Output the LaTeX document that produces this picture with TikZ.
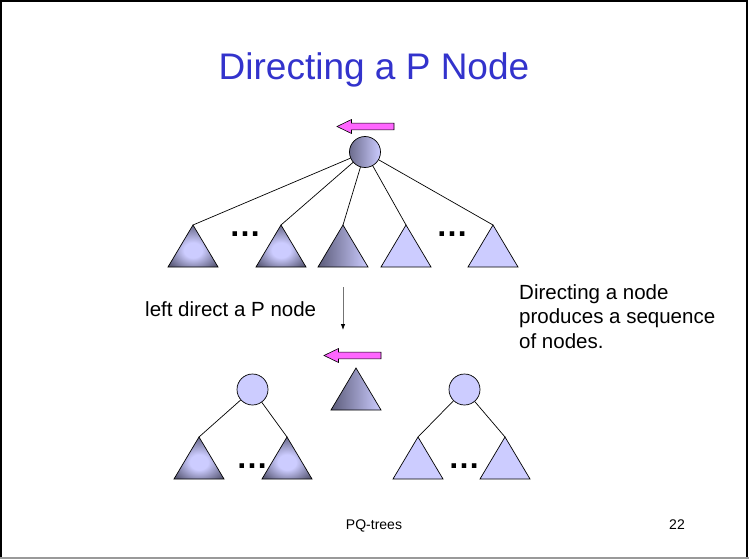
\documentclass[tikz,border=0pt]{standalone}
\usepackage{fontspec}
\setmainfont{Liberation Sans}
\usetikzlibrary{arrows.meta}

\definecolor{lav}{RGB}{204,204,255}
\definecolor{lavdark}{RGB}{92,92,122}
\definecolor{titleblue}{RGB}{51,51,204}
\definecolor{pinkarrow}{RGB}{255,102,255}

% soft glow: light centre fading to a dark rim
\pgfdeclareradialshading{subtreeglow}{\pgfpoint{0bp}{-6bp}}{%
  color(0bp)=(lav); color(9bp)=(lav); color(30bp)=(lavdark); color(50bp)=(lavdark)}

% subtree triangle hanging from apex coordinate #1, drawn with style #2
\newcommand\subtree[2]{\path[#2] (#1) -- ++(-25,42) -- ++(50,0) -- cycle;}
% left-pointing block arrow with its tip at coordinate #1
\newcommand\leftblock[1]{\path[blockarrow] (#1) -- ++(14.5,-7) -- ++(0,3.6) -- ++(42.5,0) -- ++(0,6.8) -- ++(-42.5,0) -- ++(0,3.6) -- cycle;}

\begin{document}
\begin{tikzpicture}[x=1pt,y=-1pt,
  edge/.style={draw=black, line width=0.7pt},
  outline/.style={draw=black, line width=0.7pt},
  pshade/.style={circle, outline, minimum size=31pt, inner sep=0pt, left color=lavdark!85!lav, right color=lav},
  pflat/.style={circle, outline, minimum size=31pt, inner sep=0pt, fill=lav},
  radtri/.style={outline, shading=subtreeglow},
  lintri/.style={outline, left color=lavdark, right color=lav},
  flattri/.style={outline, fill=lav},
  blockarrow/.style={draw=black, line width=0.6pt, fill=pinkarrow},
  dots/.style={inner sep=0pt, font=\fontsize{32}{32}\selectfont\bfseries},
  body/.style={inner sep=0pt, anchor=base west, font=\fontsize{20.5}{24.5}\selectfont},
  foot/.style={inner sep=0pt, anchor=base, font=\fontsize{14}{16}\selectfont}
]
\useasboundingbox (0,0) rectangle (749,559);

% slide frame
\draw[line width=2.2pt] (1.1,558) -- (1.1,1.1) -- (747,1.1) -- (747,558);
\draw[line width=1.5pt, black!40] (0,558) -- (749,558);

% title
\node[inner sep=0pt, anchor=base, text=titleblue, font=\fontsize{37}{41}\selectfont] (title) at (374,80) {Directing a P Node};

% ---------- P node before directing ----------
\coordinate (tipA) at (337,126.5);
\leftblock{tipA}
\node[pshade] (p) at (365,152) {};

\coordinate (t1) at (193,225);
\coordinate (t2) at (281,225);
\coordinate (t3) at (343,225);
\coordinate (t4) at (406,225);
\coordinate (t5) at (493,225);
\foreach \t in {t1,t2,t3,t4,t5} \draw[edge] (p) -- (\t);

\subtree{t1}{radtri}
\subtree{t2}{radtri}
\subtree{t3}{lintri}
\subtree{t4}{flattri}
\subtree{t5}{flattri}

\node[dots] (dA) at (245,234) {…};
\node[dots] (dB) at (452,234) {…};

% ---------- operation ----------
\node[body] (op) at (145,316.7) {left direct a P node};
\coordinate (down0) at (343,287);
\coordinate (down1) at (343,330);
\draw[black!55, line width=0.8pt, -{Latex[black,length=6pt,width=4.5pt]}] (down0) -- (down1);

\node[body] (n1) at (519,299.3) {Directing a node};
\node[body] (n2) at (519,323.8) {produces a sequence};
\node[body] (n3) at (519,348.3) {of nodes.};

% ---------- resulting sequence ----------
\coordinate (tipB) at (324,355.5);
\leftblock{tipB}
\coordinate (m) at (356,368);
\subtree{m}{lintri}

% left P node
\node[pflat] (pl) at (252.5,389.5) {};
\coordinate (l1) at (199,437);
\coordinate (l2) at (287,437);
\draw[edge] (pl) -- (l1);
\draw[edge] (pl) -- (l2);
\subtree{l1}{radtri}
\subtree{l2}{radtri}
\node[dots] (dC) at (252,466) {…};

% right P node
\node[pflat] (pr) at (464.5,389.5) {};
\coordinate (r1) at (418,437);
\coordinate (r2) at (505,437);
\draw[edge] (pr) -- (r1);
\draw[edge] (pr) -- (r2);
\subtree{r1}{flattri}
\subtree{r2}{flattri}
\node[dots] (dD) at (464,466) {…};

% footer
\node[foot] (ft) at (374,529) {PQ-trees};
\node[foot] (pg) at (677,529) {22};
\end{tikzpicture}
\end{document}
